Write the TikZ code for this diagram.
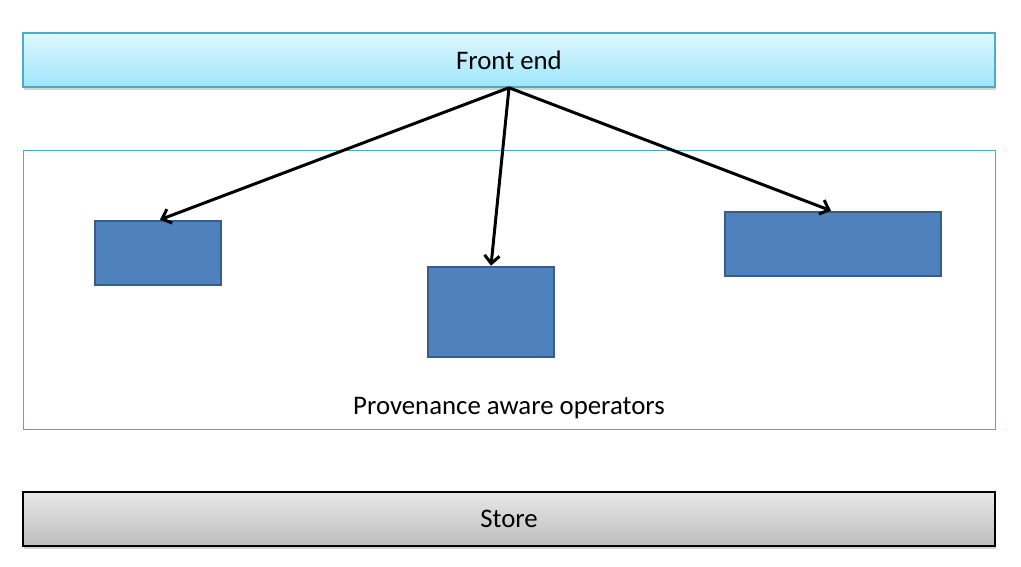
\documentclass[tikz,border=0pt]{standalone}
\usepackage{fontspec}
\setmainfont{Carlito}
\usetikzlibrary{arrows.meta,shadows}
\definecolor{teal1}{HTML}{4BACC6}
\definecolor{fetop}{HTML}{E0F7FE}
\definecolor{febot}{HTML}{9DE6FA}
\definecolor{sttop}{HTML}{E8E8E8}
\definecolor{stbot}{HTML}{BDBDBD}
\definecolor{opfill}{HTML}{4F81BD}
\definecolor{opedge}{HTML}{385D8A}
\tikzset{
  bar/.style={rectangle, minimum width=972pt, minimum height=54pt, inner sep=0pt,
    font=\fontsize{26.8}{30}\selectfont,
    drop shadow={shadow xshift=1pt, shadow yshift=-2.5pt, opacity=0.35}},
  febar/.style={bar, draw=teal1, line width=1.5pt, top color=fetop, bottom color=febot},
  stbar/.style={bar, draw=black, line width=2pt, top color=sttop, bottom color=stbot},
  frame/.style={rectangle, draw=teal1, line width=0.9pt, inner sep=0pt},
  opbox/.style={rectangle, draw=opedge, fill=opfill, line width=2.6pt, inner sep=0pt},
  conn/.style={line width=3pt, -{Straight Barb[length=8pt, width=15pt, line width=3pt]}},
  lbl/.style={font=\fontsize{26.8}{30}\selectfont, inner sep=0pt}
}
\begin{document}
\begin{tikzpicture}[x=1pt, y=-1pt]
\useasboundingbox (0,0) rectangle (1021,566);
\node[frame, minimum width=972pt, minimum height=279pt] (prov) at (509,289.5) {};
\node[lbl] (provlbl) at (509,408) {Provenance aware operators};
\node[febar] (fe) at (509,60) {Front end};
\node[stbar] (store) at (509,519) {Store};
\node[opbox, minimum width=126pt, minimum height=64pt] (b1) at (158,253) {};
\node[opbox, minimum width=126pt, minimum height=90pt] (b2) at (491,312) {};
\node[opbox, minimum width=216pt, minimum height=64pt] (b3) at (833,244) {};
\draw[conn] (fe.south) -- ([xshift=2pt]b1.north);
\draw[conn] (fe.south) -- (b2.north);
\draw[conn] (fe.south) -- ([xshift=-2pt]b3.north);
\end{tikzpicture}
\end{document}
